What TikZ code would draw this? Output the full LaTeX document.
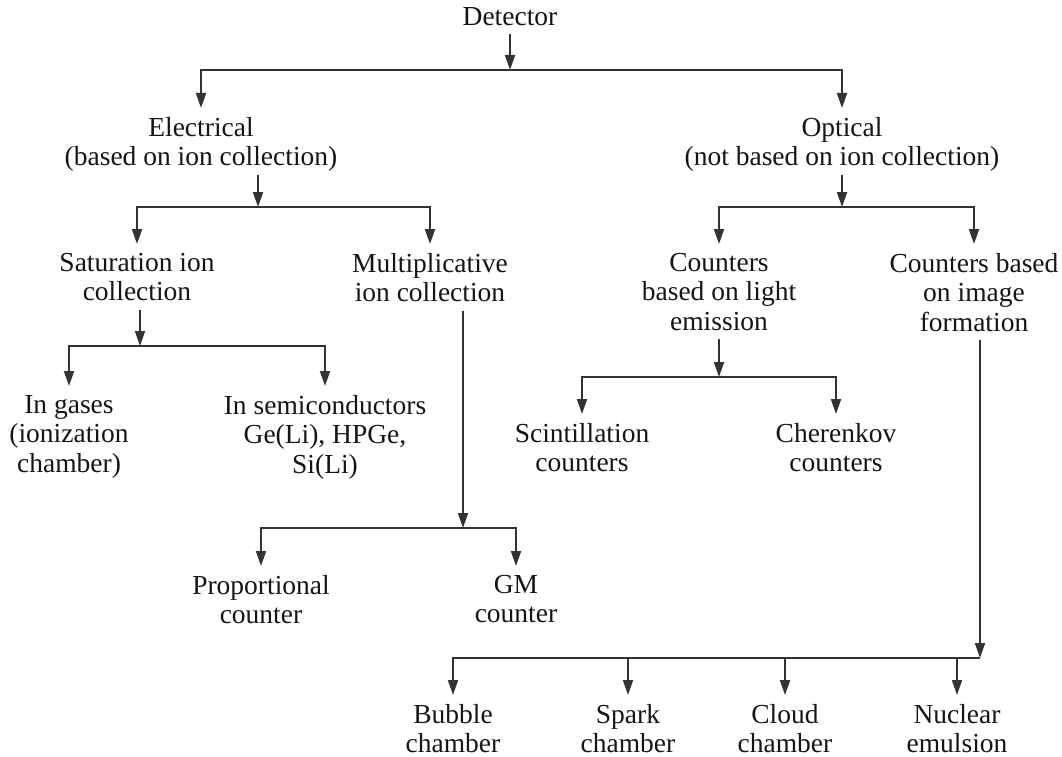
\documentclass[tikz,border=0pt]{standalone}
\usepackage{fontspec}
\setmainfont{Liberation Serif}
\newfontfamily\diagfont{Liberation Serif}
\usetikzlibrary{arrows.meta}
\definecolor{linegray}{HTML}{333333}
\definecolor{textblack}{HTML}{151515}
\newcommand{\nodepth}[1]{\raisebox{0pt}[\height][0pt]{#1}}
\begin{document}
\begin{tikzpicture}[x=1pt,y=-1pt,
  lbl/.style={font=\diagfont\fontsize{27.5}{29.5}\selectfont, align=center, inner sep=0pt,
              outer ysep=9pt, anchor=north, text=textblack},
  arr/.style={draw=linegray, line width=1.9pt,
              -{Triangle[length=15pt,width=10pt]}}]
\useasboundingbox (0,0) rectangle (1062,757);

% nodes
\node[lbl] (det) at (510,-2) {Detector};
\node[lbl] (elec) at (201,108) {Electrical\\\nodepth{(based on ion collection)}};
\node[lbl] (opt) at (842,108) {Optical\\\nodepth{(not based on ion collection)}};
\node[lbl] (sat) at (137,244) {Saturation ion\\collection};
\node[lbl] (mult) at (430,244) {Multiplicative\\ion collection};
\node[lbl] (light) at (719,244) {Counters\\based on light\\emission};
\node[lbl] (image) at (974,244) {Counters based\\on image\\formation};
\node[lbl] (gases) at (69,386) {In gases\\(ionization\\chamber)};
\node[lbl] (semi) at (325,386) {In semiconductors\\Ge(Li), HPGe,\\Si(Li)};
\node[lbl] (scint) at (582,414) {Scintillation\\counters};
\node[lbl] (cher) at (836,414) {Cherenkov\\counters};
\node[lbl] (prop) at (261,566) {Proportional\\counter};
\node[lbl] (gm) at (516,566) {GM\\counter};
\node[lbl] (bubble) at (453,695) {Bubble\\chamber};
\node[lbl] (spark) at (628,695) {Spark\\chamber};
\node[lbl] (cloud) at (785,695) {Cloud\\chamber};
\node[lbl] (nuclear) at (957,695) {Nuclear\\emulsion};

% bus points
\coordinate (db) at (510,70);
\coordinate (eb) at (258,207);
\coordinate (ob) at (842,207);
\coordinate (sb) at (140,346);
\coordinate (mb) at (463,528);
\coordinate (lb) at (719,377);
\coordinate (ib) at (980,658);

% connectors
\draw[arr] (det.south -| db) -- (db);
\draw[arr] (db) -| (elec.north);
\draw[arr] (db) -| (opt.north);

\draw[arr] (elec.south -| eb) -- (eb);
\draw[arr] (eb) -| (sat.north);
\draw[arr] (eb) -| (mult.north);

\draw[arr] (opt.south -| ob) -- (ob);
\draw[arr] (ob) -| (light.north);
\draw[arr] (ob) -| (image.north);

\draw[arr] (sat.south -| sb) -- (sb);
\draw[arr] (sb) -| (gases.north);
\draw[arr] (sb) -| (semi.north);

\draw[arr] (mult.south -| mb) -- (mb);
\draw[arr] (mb) -| (prop.north);
\draw[arr] (mb) -| (gm.north);

\draw[arr] (light.south -| lb) -- (lb);
\draw[arr] (lb) -| (scint.north);
\draw[arr] (lb) -| (cher.north);

\draw[arr] (image.south -| ib) -- (ib);
\draw[arr] (ib) -| (bubble.north);
\draw[arr] (ib) -| (spark.north);
\draw[arr] (ib) -| (cloud.north);
\draw[arr] (ib) -| (nuclear.north);
\end{tikzpicture}
\end{document}
